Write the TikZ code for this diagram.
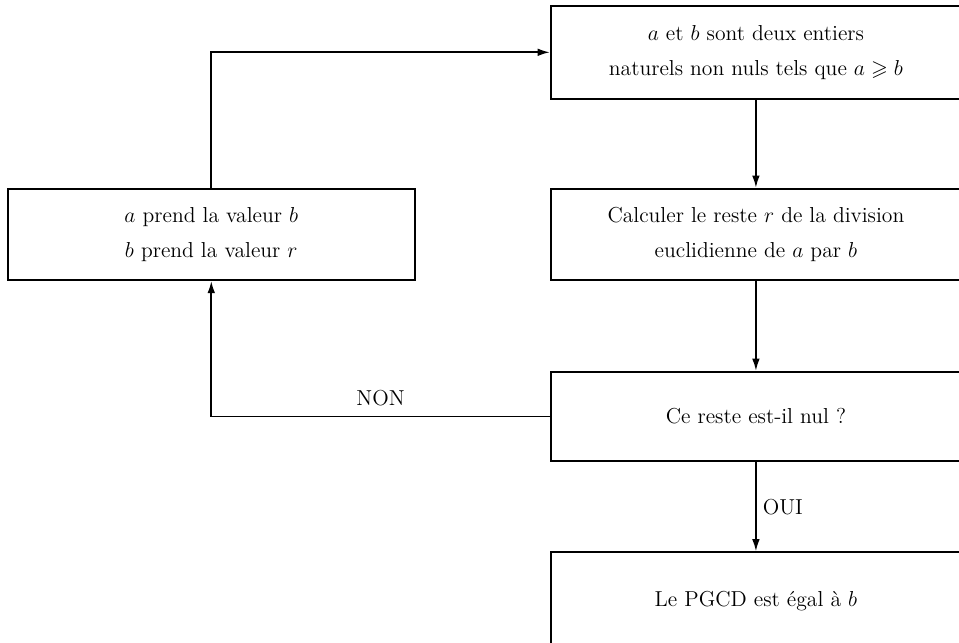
\documentclass[tikz,border=0pt]{standalone}
\usepackage{amssymb}
\usetikzlibrary{arrows.meta}
\tikzset{
    every node/.style={font=\fontsize{12}{14}\selectfont},
    etape/.style={draw, line width=1pt, align=center, minimum width=8cm, minimum height=1.78cm},
    fleche/.style={line width=1pt, -{Latex[length=2.4mm,width=1.5mm]}}
}
\begin{document}
\begin{tikzpicture}
        \useasboundingbox (0,0) rectangle (18.70,12.52);
        \clip (0,0) rectangle (18.70,12.52);
        \node[etape, minimum height=1.81cm] (depart) at (14.74,11.50) {$a$ et $b$ sont deux entiers\\[5.5pt] naturels non nuls tels que $a\geqslant b$};
        \node[etape, minimum width=7.94cm] (echange) at (4.12,7.95) {$a$ prend la valeur $b$\\[5.5pt] $b$ prend la valeur $r$};
        \node[etape] (reste) at (14.74,7.95) {Calculer le reste $r$ de la division\\[5.5pt] euclidienne de $a$ par $b$};
        \node[etape, minimum height=1.74cm] (test) at (14.74,4.40) {Ce reste est-il nul ?};
        \node[etape, minimum height=1.9cm] (pgcd) at (14.74,0.80) {Le PGCD est égal à $b$};
        \draw[fleche] (depart) -- (reste);
        \draw[fleche] (reste) -- (test);
        \draw[fleche] (test) -- node[right] {OUI} (pgcd);
        \draw[fleche] (test.west) -| node[pos=0.25, above=2pt] {NON} (echange.south);
        \draw[fleche] (echange.north) |- (depart.west);
    \end{tikzpicture}
\end{document}
